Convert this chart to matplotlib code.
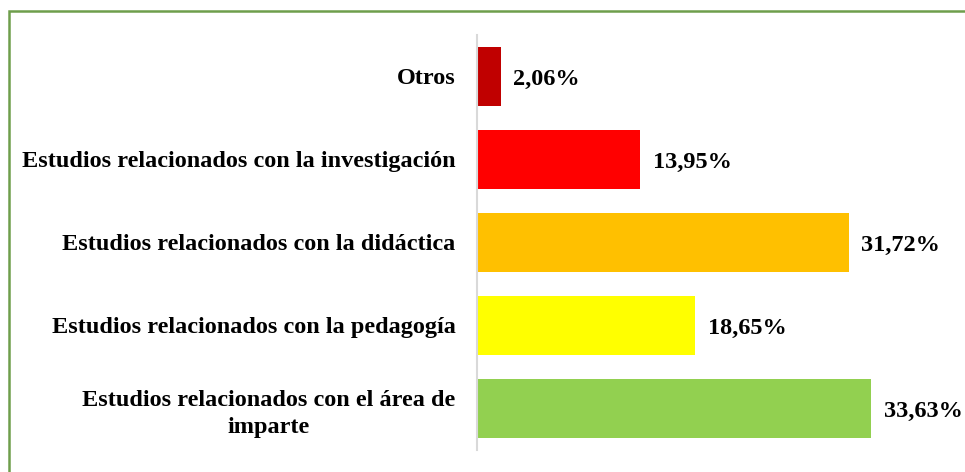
import matplotlib.pyplot as plt
from matplotlib.patches import Rectangle

categorias = ['Estudios relacionados con el área de\nimparte',
              'Estudios relacionados con la pedagogía',
              'Estudios relacionados con la didáctica',
              'Estudios relacionados con la investigación',
              'Otros']
valores = [33.63, 18.65, 31.72, 13.95, 2.06]
etiquetas = ['33,63%', '18,65%', '31,72%', '13,95%', '2,06%']
colores = ['#92D050', '#FFFF00', '#FFC000', '#FF0000', '#C00000']

plt.rcParams['font.family'] = ['Liberation Serif', 'DejaVu Serif']

fig = plt.figure(figsize=(9.65, 4.72), dpi=100)
ax = fig.add_axes([476.5/965, 22/472, (946-476.5)/965, 415/472])

ax.barh(range(len(valores)), valores, height=0.71, color=colores)
for i, v in enumerate(valores):
    ax.text(v + 1.05, i, etiquetas[i], va='center_baseline', ha='left',
            fontsize=17.5, fontweight='bold')

ax.set_yticks(range(len(categorias)))
ax.set_yticklabels(categorias, fontsize=17.5, fontweight='bold',
                   multialignment='center', linespacing=1.4)
ax.tick_params(axis='y', length=0, pad=15)
ax.set_xlim(0, 40)
ax.set_ylim(-0.5, 4.5)
ax.set_xticks([])
for s in ['top', 'right', 'bottom']:
    ax.spines[s].set_visible(False)
ax.spines['left'].set_color('#D9D9D9')
ax.spines['left'].set_linewidth(1.5)

# marco verde
fig.patches.append(Rectangle((9/965, -0.1), 1.2, (472-10.5)/472 + 0.1,
                             transform=fig.transFigure, fill=False,
                             edgecolor='#6E9E4C', linewidth=1.8, zorder=10))

fig.savefig('out.png', dpi=100)
